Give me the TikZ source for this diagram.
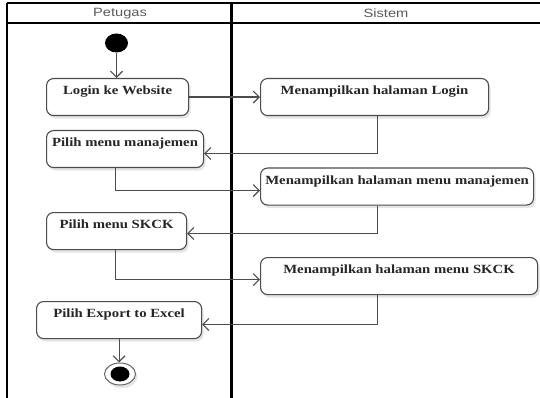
\documentclass[tikz,border=0pt]{standalone}
\usepackage{fontspec}
\setmainfont{Liberation Serif}
\newfontfamily\actfont[FakeStretch=1.18]{Liberation Serif}
\newfontfamily\lanefont[FakeStretch=1.22]{Liberation Sans}
\usetikzlibrary{arrows.meta,shapes.geometric,shadows}

\tikzset{
  act/.style={draw=black!70, line width=1.1pt, rounded corners=7pt, fill=white,
    anchor=north west, minimum height=37pt, text height=12pt, text depth=17pt,
    inner xsep=0pt, inner ysep=4pt, text=black!85,
    font=\actfont\bfseries\fontsize{12.5}{14}\selectfont,
    drop shadow={shadow xshift=2pt, shadow yshift=-3pt, fill=black, opacity=0.10}},
  flow/.style={draw=black!70, line width=1.1pt, -{Straight Barb[length=6pt,width=12pt]}},
  lane/.style={draw=black, line width=2.2pt},
  lanetitle/.style={text=black!65, font=\lanefont\fontsize{12}{14}\selectfont},
  initial/.style={ellipse, fill=black, minimum width=23pt, minimum height=19pt, inner sep=0pt},
  final/.style={ellipse, draw=black!60, line width=1pt, fill=white, minimum width=31pt,
    minimum height=22pt, inner sep=0pt,
    drop shadow={shadow xshift=2pt, shadow yshift=-3pt, fill=black, opacity=0.10}},
  finaldot/.style={ellipse, fill=black, minimum width=19pt, minimum height=15pt, inner sep=0pt}
}

\begin{document}
\begin{tikzpicture}[x=1pt,y=-1pt]
  \useasboundingbox (0,0) rectangle (540,398);

  % swimlanes
  \draw[lane] (7,3) -- (540,3);
  \draw[lane] (7,23) -- (540,23);
  \draw[lane] (7,3) -- (7,398);
  \draw[lane] (231.5,3) -- (231.5,398);
  \node[lanetitle] (lanepetugas) at (120,13.5) {Petugas};
  \node[lanetitle] (lanesistem) at (386,13.5) {Sistem};

  % activities
  \node[initial] (start) at (116.5,43) {};
  \node[act, minimum width=142pt] (login) at (46,78) {Login ke Website};
  \node[act, minimum width=228pt] (showlogin) at (260,78) {Menampilkan halaman Login};
  \node[act, minimum width=157pt] (manage) at (46,130) {Pilih menu manajemen};
  \node[act, minimum width=273pt] (showmanage) at (260,167.5) {Menampilkan halaman menu manajemen};
  \node[act, minimum width=140pt] (skck) at (46,212) {Pilih menu SKCK};
  \node[act, minimum width=277pt] (showskck) at (260,257) {Menampilkan halaman menu SKCK};
  \node[act, minimum width=165pt] (export) at (36,301) {Pilih Export to Excel};
  \node[final] (stop) at (120,374) {};
  \node[finaldot] (stopdot) at (stop.center) {};

  % control flow
  \draw[flow] (start.south) -- (start.south |- login.north);
  \draw[flow] (login.east) -- (showlogin.west);
  \draw[flow] ([xshift=3pt]showlogin.south) |- ([yshift=-4.5pt]manage.east);
  \draw[flow] ([xshift=-9.5pt]manage.south) |- ([yshift=-4pt]showmanage.west);
  \draw[flow] ([xshift=-19.5pt]showmanage.south) |- ([yshift=-2.5pt]skck.east);
  \draw[flow] ([xshift=-1pt]skck.south) |- ([yshift=-3.5pt]showskck.west);
  \draw[flow] ([xshift=-21.5pt]showskck.south) |- ([yshift=-4.5pt]export.east);
  \draw[flow] (export.south) -- (export.south |- stop.north);
\end{tikzpicture}
\end{document}
